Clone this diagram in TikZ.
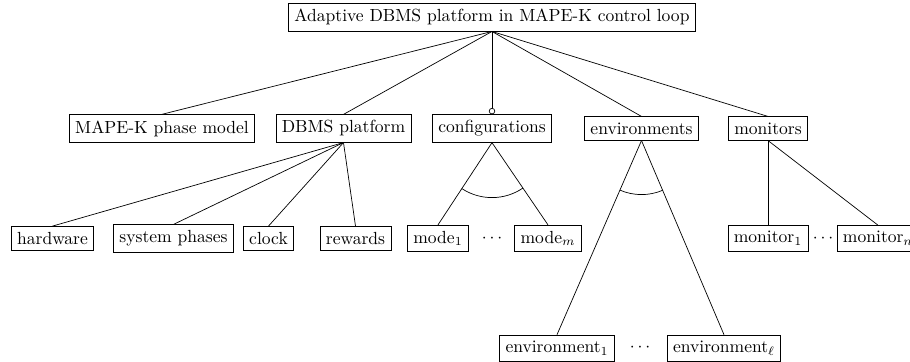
\documentclass[tikz,border=0pt]{standalone}
\usetikzlibrary{arrows.meta,calc}
\begin{document}
\begin{tikzpicture}[x=0.5698pt,y=0.5698pt,
  feat/.style={draw, inner sep=3.33pt},
  gap/.style={inner sep=1pt},
  optional/.style={-{Circle[open,length=3.6pt]}}]
\useasboundingbox (0,0) rectangle (910,362);

% root
\node[feat] (root) at (492,344.7) {Adaptive DBMS platform in MAPE-K control loop};

% first level
\node[feat] (mape) at (162,233.5) {MAPE-K phase model};
\node[feat] (dbms) at (343.5,233.5) {DBMS platform};
\node[feat] (conf) at (492,233.5) {configurations};
\node[feat] (env)  at (641.5,233.5) {environments};
\node[feat] (mon)  at (768,233.5) {monitors};

% second level
\node[feat] (hw)    at (52.5,123.5) {hardware};
\node[feat] (phase) at (173.5,123.5) {system phases};
\node[feat] (clock) at (268.5,123.5) {clock};
\node[feat] (rew)   at (355.5,123.5) {rewards};
\node[feat] (mode1) at (438,123.5) {mode$_1$};
\node[gap]  (mdots) at (492,123.5) {$\cdots$};
\node[feat] (modem) at (548,123.5) {mode$_m$};
\node[feat] (mon1)  at (768,123.5) {monitor$_1$};
\node[gap]  (ndots) at (823,123.5) {$\cdots$};
\node[feat] (monn)  at (878,123.5) {monitor$_n$};

\node[feat] (env1) at (557,14) {environment$_1$};
\node[gap]  (edots) at (640,14) {$\cdots$};
\node[feat] (envl) at (724,14) {environment$_\ell$};

% edges from the root
\draw (root.south) -- (mape.north);
\draw (root.south) -- (dbms.north);
\draw[optional] (root.south) -- (conf.north);
\draw (root.south) -- (env.north);
\draw (root.south) -- (mon.north);

% DBMS platform parts
\draw (dbms.south) -- (hw.north);
\draw (dbms.south) -- (phase.north);
\draw (dbms.south) -- (clock.north);
\draw (dbms.south) -- (rew.north);

% alternative groups
\draw (conf.south) -- (mode1.north);
\draw (conf.south) -- (modem.north);
\draw (env.south) -- (env1.north);
\draw (env.south) -- (envl.north);

% monitors
\draw (mon.south) -- (mon1.north);
\draw (mon.south) -- (monn.north);

% group arcs
\draw let \p0=(conf.south), \p1=(mode1.north), \p2=(modem.north),
  \n1={atan2(\y1-\y0,\x1-\x0)}, \n2={atan2(\y2-\y0,\x2-\x0)} in
  ($(\p0)+(\n1:31.3pt)$) arc[start angle=\n1, end angle=\n2, radius=31.3pt];
\draw let \p0=(env.south), \p1=(env1.north), \p2=(envl.north),
  \n1={atan2(\y1-\y0,\x1-\x0)}, \n2={atan2(\y2-\y0,\x2-\x0)} in
  ($(\p0)+(\n1:30.8pt)$) arc[start angle=\n1, end angle=\n2, radius=30.8pt];
\end{tikzpicture}
\end{document}
